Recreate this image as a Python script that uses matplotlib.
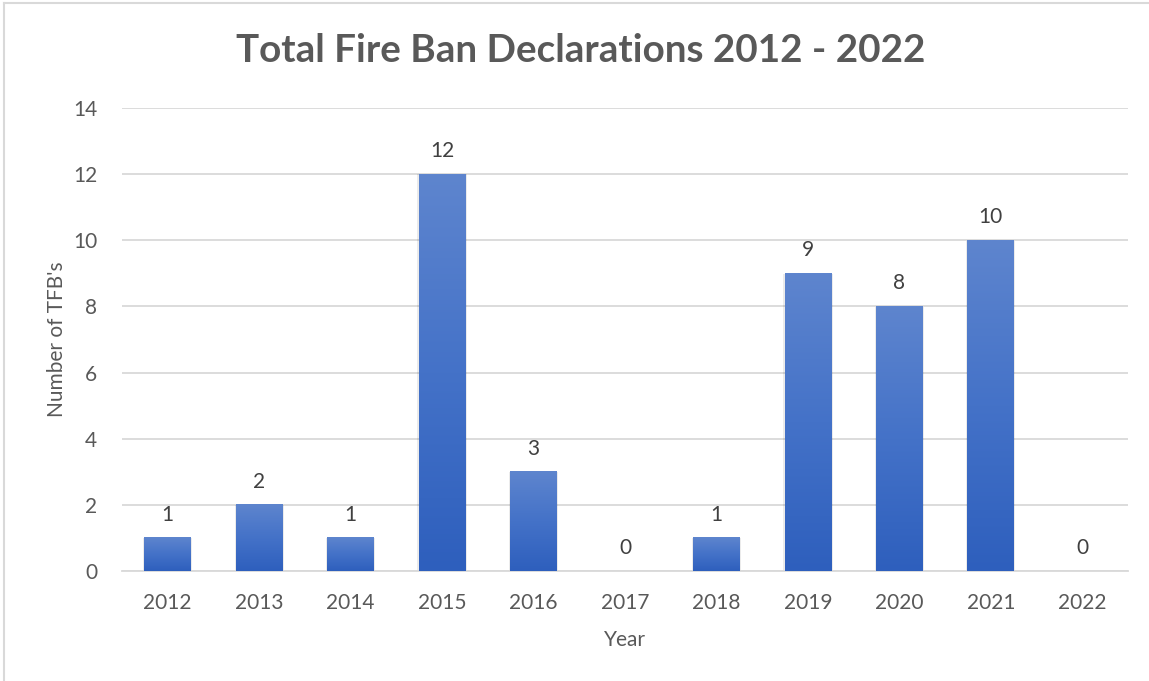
import numpy as np
import matplotlib.pyplot as plt
from matplotlib.colors import LinearSegmentedColormap
from matplotlib.patches import Rectangle

years = ["2012", "2013", "2014", "2015", "2016", "2017", "2018", "2019", "2020", "2021", "2022"]
tfb_counts = [1, 2, 1, 12, 3, 0, 1, 9, 8, 10, 0]

plt.rcParams['font.family'] = ['Lato', 'DejaVu Sans']

fig = plt.figure(figsize=(11.49, 6.81), dpi=100)
ax = fig.add_axes([0.1062, 0.1615, 0.8755, 0.6799])

x = np.arange(len(years))
bars = ax.bar(x, tfb_counts, width=0.51, color="none", zorder=3)

# vertical gradient fill like the Excel bars
cmap = LinearSegmentedColormap.from_list("blu", ["#2E5FBD", "#4472C8", "#5E85CE"])
grad = np.linspace(0, 1, 256).reshape(-1, 1)
for b, v in zip(bars, tfb_counts):
    h = b.get_height()
    x0 = b.get_x()
    w = b.get_width()
    if h > 0:
        # faint shadow
        ax.add_patch(Rectangle((x0 - 0.015, -0.03), w + 0.03, h + 0.02, color="#000000",
                               alpha=0.08, lw=0, zorder=2))
        ax.imshow(grad, extent=[x0, x0 + w, 0, h], origin="lower", aspect="auto",
                  cmap=cmap, vmin=0, vmax=1, zorder=3)
    ax.text(x0 + w / 2, h + 0.4, str(v), ha="center", va="bottom", fontsize=15, color="#404040")

ax.set_xlim(-0.5, len(years) - 0.5)
ax.set_ylim(0, 14)
ax.set_yticks(range(0, 15, 2))
ax.set_xticks(x)
ax.set_xticklabels(years)
ax.tick_params(axis="both", length=0, labelsize=15, labelcolor="#595959")
ax.tick_params(axis="y", pad=18)
ax.tick_params(axis="x", pad=16)
ax.grid(axis="y", color="#D9D9D9", lw=1.3, zorder=0)
ax.set_axisbelow(True)
for s in ["top", "right", "left"]:
    ax.spines[s].set_visible(False)
ax.spines["bottom"].set_color("#D9D9D9")
ax.spines["bottom"].set_linewidth(1.3)

ax.set_ylabel("Number of TFB's", fontsize=15, color="#595959", labelpad=4)
ax.set_xlabel("Year", fontsize=15, color="#595959", labelpad=12)

fig.text(0.505, 0.926, "Total Fire Ban Declarations 2012 - 2022", ha="center", va="center",
         fontsize=27.8, fontweight="bold", color="#595959")

# chart border (top and left visible in screenshot)
fig.add_artist(plt.Line2D([0.0035, 1.0], [0.9956, 0.9956], color="#D9D9D9", lw=1.5,
                          transform=fig.transFigure))
fig.add_artist(plt.Line2D([0.0035, 0.0035], [0.0, 0.9956], color="#D9D9D9", lw=1.5,
                          transform=fig.transFigure))

fig.savefig("out.png", dpi=100)
